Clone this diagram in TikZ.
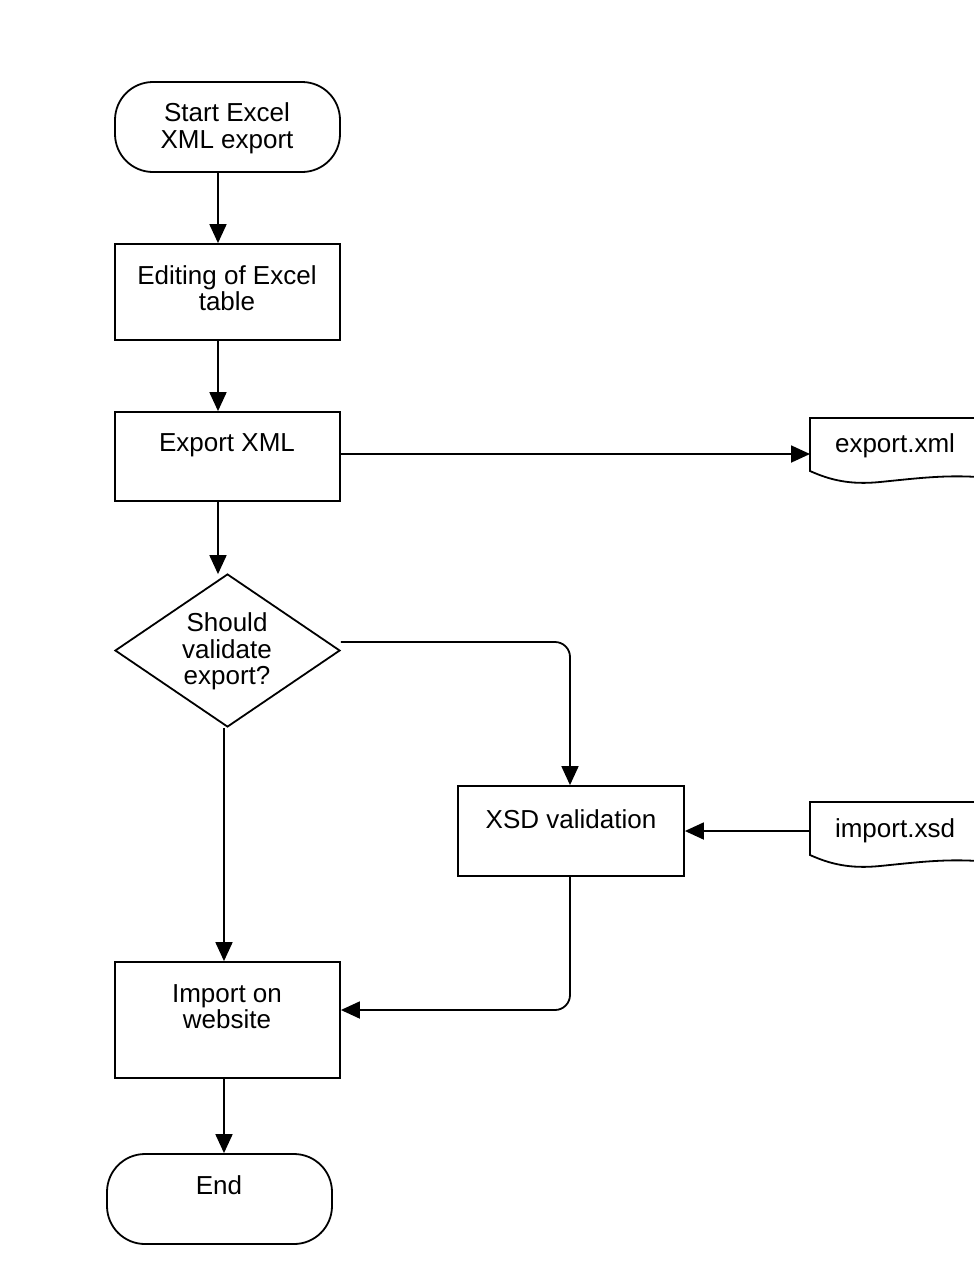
\documentclass[tikz,border=0pt]{standalone}
\usepackage{fontspec}
\setmainfont{Liberation Sans}
\usetikzlibrary{arrows.meta,shapes.geometric}
\begin{document}
\begin{tikzpicture}[x=1pt,y=-1pt,
  shp/.style={draw,line width=1.8pt,inner sep=0pt,minimum width=225pt},
  term/.style={shp,rounded corners=38pt,minimum height=90pt},
  proc/.style={shp,rectangle},
  dec/.style={shp,diamond,minimum width=225pt,minimum height=153pt},
  lbl/.style={font=\fontsize{26}{26.5}\selectfont,align=center,inner sep=0pt},
  arr/.style={-{Triangle[length=19pt,width=17pt]},line width=1.8pt},
  docline/.style={line width=1.8pt,line join=miter}]
\useasboundingbox (0,0) rectangle (974,1262);
\fill[white] (0,0) rectangle (974,1262);
% shapes
\node[term] (start) at (227.5,127) {};
\node[proc,minimum height=96pt] (edit) at (227.5,292) {};
\node[proc,minimum height=89pt] (exp) at (227.5,456.5) {};
\node[dec] (dia) at (227.5,650.5) {};
\node[proc,minimum height=90pt,minimum width=226pt] (xsd) at (571,831) {};
\node[proc,minimum height=116pt] (imp) at (227.5,1020) {};
\node[term] (end) at (219.5,1199) {};
% documents
\draw[docline] (990,418) -- (810,418) -- (810,471)
  .. controls (830,480) and (850,485) .. (880,482)
  .. controls (920,478) and (950,474) .. (990,478);
\coordinate (xmlin) at (810,454);
\draw[docline] (990,802) -- (810,802) -- (810,855)
  .. controls (830,864) and (850,869) .. (880,866)
  .. controls (920,862) and (950,858) .. (990,862);
\coordinate (xsdin) at (810,831);
% labels
\node[lbl] (tstart) at (227,128.5) {Start Excel\\XML export};
\node[lbl] (tedit) at (227,288) {Editing of Excel\\table};
\node[lbl] (texp) at (227,445.5) {Export XML};
\node[lbl] (tdia) at (227,651.5) {Should\\validate\\export?};
\node[lbl] (txsd) at (571,819) {XSD validation};
\node[lbl] (timp) at (227,1006.5) {Import on\\website};
\node[lbl] (tend) at (219,1185) {End};
\node[lbl] (txml) at (895,446) {export.xml};
\node[lbl] (timx) at (895,830.5) {import.xsd};
% connectors
\draw[arr] ([xshift=-9.5pt]start.south) -- ([xshift=-9.5pt]edit.north);
\draw[arr] ([xshift=-9.5pt]edit.south) -- ([xshift=-9.5pt]exp.north);
\draw[arr] ([yshift=2.5pt]exp.east) -- (xmlin);
\draw[arr] ([xshift=-9.5pt]exp.south) -- ([xshift=-9.5pt,yshift=-1pt]dia.north);
\draw[arr,rounded corners=15pt] ([yshift=8.5pt]dia.east) -| ([xshift=-1pt]xsd.north);
\draw[arr] (xsdin) -- (xsd.east);
\draw[arr] ([xshift=-3.5pt]dia.south) -- ([xshift=-3.5pt]imp.north);
\draw[arr,rounded corners=15pt] ([xshift=-1pt]xsd.south) |- ([yshift=10pt]imp.east);
\draw[arr] ([xshift=-3.5pt]imp.south) -- ([xshift=4.5pt]end.north);
\end{tikzpicture}
\end{document}
